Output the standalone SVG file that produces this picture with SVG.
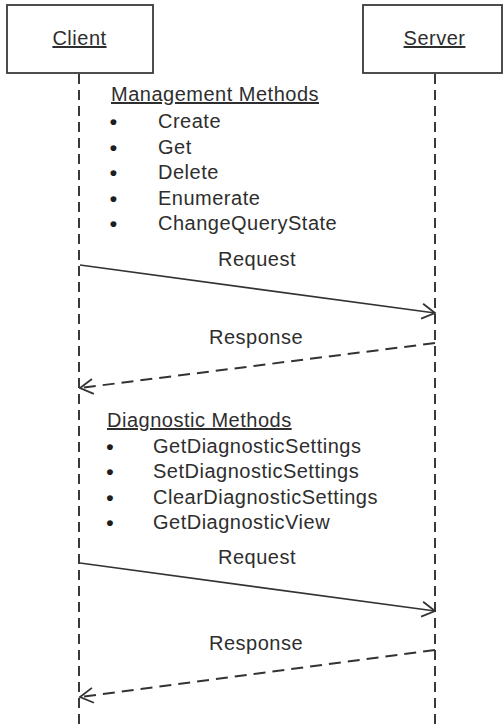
<svg xmlns="http://www.w3.org/2000/svg" width="504" height="728" viewBox="0 0 504 728">
  <defs>
    <style>
      .box { fill: #ffffff; stroke: #3a3a3a; stroke-width: 1.8; }
      .t { font-family: "Liberation Sans", Arial, sans-serif; font-size: 20px; letter-spacing: 0.5px; fill: #2e2e2e; }
      .b { font-family: "Liberation Sans", Arial, sans-serif; font-size: 21px; font-weight: bold; fill: #1e1e1e; text-anchor: middle; }
      .u { text-decoration: underline; }
      .c { text-anchor: middle; }
      .life { stroke: #3a3a3a; stroke-width: 2; stroke-dasharray: 10 6; fill: none; }
      .req { stroke: #333333; stroke-width: 1.7; fill: none; marker-end: url(#open); }
      .resp { stroke: #333333; stroke-width: 2; stroke-dasharray: 12 7; fill: none; marker-end: url(#open); }
    </style>
    <marker id="open" viewBox="0 0 16 18" refX="14.5" refY="9" markerWidth="16" markerHeight="18" markerUnits="userSpaceOnUse" orient="auto">
      <path d="M1.5,1.5 L14.5,9 L1.5,16.5" fill="none" stroke="#333333" stroke-width="1.8" stroke-dasharray="none"/>
    </marker>
  </defs>
  <rect width="504" height="728" fill="#ffffff"/>

  <g id="connectors">
    <line class="life" x1="79" y1="74" x2="79" y2="728"/>
    <line class="life" x1="435" y1="74" x2="435" y2="728"/>
    <line class="req" x1="80" y1="265" x2="435" y2="313"/>
    <line class="resp" x1="435" y1="343" x2="80" y2="388"/>
    <line class="req" x1="80" y1="563" x2="435" y2="611"/>
    <line class="resp" x1="435" y1="650" x2="80" y2="697"/>
    <text class="t c" x="257" y="266">Request</text>
    <text class="t c" x="256" y="344">Response</text>
    <text class="t c" x="257" y="564">Request</text>
    <text class="t c" x="256" y="650">Response</text>
  </g>

  <g id="client">
    <rect class="box" x="7" y="5" width="146" height="68"/>
    <text class="t c u" x="79.5" y="45">Client</text>
  </g>

  <g id="server">
    <rect class="box" x="363" y="5" width="139" height="68"/>
    <text class="t c u" x="434.5" y="45">Server</text>
  </g>

  <g id="management-methods">
    <text class="t u" x="111" y="101">Management Methods</text>
    <text class="b" x="113.5" y="129">•</text>
    <text class="t" x="158" y="128">Create</text>
    <text class="b" x="113.5" y="154.5">•</text>
    <text class="t" x="158" y="153.5">Get</text>
    <text class="b" x="113.5" y="180">•</text>
    <text class="t" x="158" y="179">Delete</text>
    <text class="b" x="113.5" y="205.5">•</text>
    <text class="t" x="158" y="204.5">Enumerate</text>
    <text class="b" x="113.5" y="231">•</text>
    <text class="t" x="158" y="230">ChangeQueryState</text>
  </g>

  <g id="diagnostic-methods">
    <text class="t u" x="107" y="427">Diagnostic Methods</text>
    <text class="b" x="110" y="453.5">•</text>
    <text class="t" x="153" y="452.5">GetDiagnosticSettings</text>
    <text class="b" x="110" y="479">•</text>
    <text class="t" x="153" y="478">SetDiagnosticSettings</text>
    <text class="b" x="110" y="504.5">•</text>
    <text class="t" x="153" y="503.5">ClearDiagnosticSettings</text>
    <text class="b" x="110" y="530">•</text>
    <text class="t" x="153" y="529">GetDiagnosticView</text>
  </g>
</svg>
